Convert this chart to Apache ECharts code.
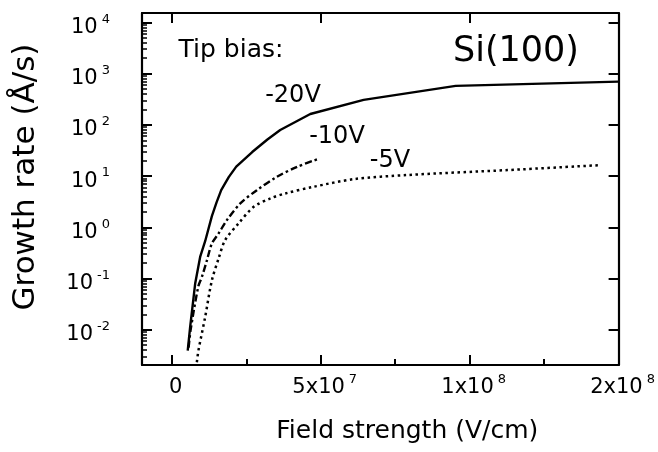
<!DOCTYPE html>
<html><head><meta charset="utf-8">
<script src="https://cdn.jsdelivr.net/npm/echarts@6/dist/echarts.min.js"></script>
<style>html,body{margin:0;padding:0;background:#fff}#c{width:658px;height:452px}</style>
</head><body><div id="c"></div>
<script>
// ---- data ----
const field20 = [5.35e6, 6.16e6, 7.84e6, 9.52e6, 1.12e7, 1.346e7, 1.50e7, 1.659e7, 1.911e7, 2.164e7, 2.70e7, 3.21e7, 3.64e7, 4.65e7, 6.44e7, 9.53e7, 1.5e8];
const rate20  = [0.0039, 0.0113, 0.079, 0.264, 0.535, 1.65, 3.03, 5.32, 9.55, 15.3, 29.5, 51.8, 79.4, 163, 307, 577, 700];
const field10 = [5.65e6, 6.3e6, 8.9e6, 1.01e7, 1.18e7, 1.346e7, 1.57e7, 1.85e7, 2.3e7, 2.86e7, 3.53e7, 4.21e7, 4.88e7];
const rate10  = [0.0045, 0.0097, 0.07, 0.107, 0.227, 0.482, 0.757, 1.38, 2.92, 5.32, 9.68, 15.2, 21.2];
const field5  = [8.41e6, 8.95e6, 1.12e7, 1.346e7, 1.57e7, 1.79e7, 2.24e7, 2.75e7, 3.31e7, 3.81e7, 4.76e7, 6.11e7, 7.91e7, 1.127e8, 1.441e8];
const rate5   = [0.00232, 0.00394, 0.0177, 0.0922, 0.245, 0.56, 1.19, 2.51, 3.66, 4.58, 6.18, 8.73, 10.5, 13.1, 16.4];

const xMajorTicks = [0, 5e7, 1e8, 1.5e8];
const xTickLabels = ['0', '5x10^7', '1x10^8', '2x10^8'];
const xMinorTicks = [2.5e7, 7.5e7, 1.25e8];
const yMajorTicks = [1e-2, 1e-1, 1, 10, 100, 1000, 10000];
const yTickLabels = ['10^-2', '10^-1', '10^0', '10^1', '10^2', '10^3', '10^4'];
const seriesNames = ['-20V', '-10V', '-5V'];

// ---- helpers ----
const FONT = 'DejaVu Sans';
const yMinorTicks = [];
for (let e = -3; e <= 3; e++) for (let k = 2; k <= 9; k++) yMinorTicks.push(+(k * Math.pow(10, e)).toPrecision(3));
function sup(s) { const p = s.split('^'); return p.length > 1 ? '{b|' + p[0] + '}{s|' + p[1] + '}' : '{b|' + p[0] + '}'; }
function near(a, b) { return Math.abs(a - b) <= Math.abs(b) * 1e-6 + 1e-12; }
const rich = {
  b: { fontSize: 21, fontFamily: FONT, color: '#000', lineHeight: 25, verticalAlign: 'bottom' },
  s: { fontSize: 13, fontFamily: FONT, color: '#000', verticalAlign: 'top', padding: [0, 0, 0, 4] }
};
const pairs = (xs, ys) => xs.map((x, i) => [x, ys[i]]);
const XMIN = -1e7, XMAX = 1.5e8, YMIN = 0.00205, YMAX = 15280;
const axisLine = { show: true, onZero: false, lineStyle: { color: '#000', width: 2.2 } };
const noLine = { show: false, onZero: false };

const chart = echarts.init(document.getElementById('c'));
chart.setOption({
  animation: false,
  backgroundColor: '#fff',
  grid: { left: 142, right: 39, top: 13, bottom: 87, containLabel: false },
  xAxis: [
    { type: 'value', min: XMIN, max: XMAX, position: 'bottom',
      axisLine, splitLine: { show: false },
      axisTick: { show: true, inside: true, length: 10, lineStyle: { color: '#000', width: 2 }, customValues: xMajorTicks.slice(0, 3) },
      axisLabel: { show: true, margin: 8, customValues: xMajorTicks, rich, padding: [0, 0, 0, 8],
        formatter: v => { const i = xMajorTicks.findIndex(t => near(v, t)); return i < 0 ? '' : sup(xTickLabels[i]); } },
      name: 'Field strength (V/cm)', nameLocation: 'middle', nameGap: 54,
      nameTextStyle: { fontFamily: FONT, fontSize: 25, color: '#000', padding: [0, 0, 0, 54] } },
    { type: 'value', min: XMIN, max: XMAX, position: 'bottom',
      axisLine: noLine, splitLine: { show: false }, axisLabel: { show: false },
      axisTick: { show: true, inside: true, length: 6, lineStyle: { color: '#000', width: 2 }, customValues: xMinorTicks } },
    { type: 'value', min: XMIN, max: XMAX, position: 'top',
      axisLine, splitLine: { show: false }, axisLabel: { show: false },
      axisTick: { show: true, inside: true, length: 10, lineStyle: { color: '#000', width: 2 }, customValues: xMajorTicks.slice(0, 3) } }
  ],
  yAxis: [
    { type: 'log', logBase: 10, min: YMIN, max: YMAX, position: 'left',
      axisLine, splitLine: { show: false },
      axisTick: { show: true, inside: true, length: 10, lineStyle: { color: '#000', width: 2 }, customValues: yMajorTicks },
      axisLabel: { show: true, margin: 32, customValues: yMajorTicks, rich, padding: [6, 0, 0, 0],
        formatter: v => { const i = yMajorTicks.findIndex(t => near(v, t)); return i < 0 ? '' : sup(yTickLabels[i]); } },
      name: 'Growth rate (Å/s)', nameLocation: 'middle', nameGap: 101,
      nameTextStyle: { fontFamily: FONT, fontSize: 31, color: '#000', padding: [0, 0, 0, 24] } },
    { type: 'log', logBase: 10, min: YMIN, max: YMAX, position: 'left',
      axisLine: noLine, splitLine: { show: false }, axisLabel: { show: false },
      axisTick: { show: true, inside: true, length: 5, lineStyle: { color: '#000', width: 1.5 }, customValues: yMinorTicks } },
    { type: 'log', logBase: 10, min: YMIN, max: YMAX, position: 'right',
      axisLine, splitLine: { show: false }, axisLabel: { show: false },
      axisTick: { show: true, inside: true, length: 10, lineStyle: { color: '#000', width: 2 }, customValues: yMajorTicks } }
  ],
  series: [
    { name: seriesNames[0], type: 'line', data: pairs(field20, rate20), showSymbol: false, symbol: 'none', smooth: false,
      lineStyle: { color: '#000', width: 2.4, type: 'solid', join: 'round' } },
    { name: seriesNames[1], type: 'line', data: pairs(field10, rate10), showSymbol: false, symbol: 'none', smooth: 0.3,
      lineStyle: { color: '#000', width: 2.4, type: [7, 3, 2.5, 3] } },
    { name: seriesNames[2], type: 'line', data: pairs(field5, rate5), showSymbol: false, symbol: 'none', smooth: 0.3,
      lineStyle: { color: '#000', width: 2.5, type: [2.5, 3.5] } }
  ],
  graphic: [
    { type: 'text', x: 231, y: 50, style: { text: 'Tip bias:', font: '25px "DejaVu Sans"', fill: '#000', textAlign: 'center', textVerticalAlign: 'middle' } },
    { type: 'text', x: 516, y: 52, style: { text: 'Si(100)', font: '35px "DejaVu Sans"', fill: '#000', textAlign: 'center', textVerticalAlign: 'middle' } },
    { type: 'text', x: 293, y: 96, style: { text: seriesNames[0], font: '24px "DejaVu Sans"', fill: '#000', textAlign: 'center', textVerticalAlign: 'middle' } },
    { type: 'text', x: 337, y: 137, style: { text: seriesNames[1], font: '24px "DejaVu Sans"', fill: '#000', textAlign: 'center', textVerticalAlign: 'middle' } },
    { type: 'text', x: 390, y: 161, style: { text: seriesNames[2], font: '24px "DejaVu Sans"', fill: '#000', textAlign: 'center', textVerticalAlign: 'middle' } }
  ]
});
</script></body></html>
